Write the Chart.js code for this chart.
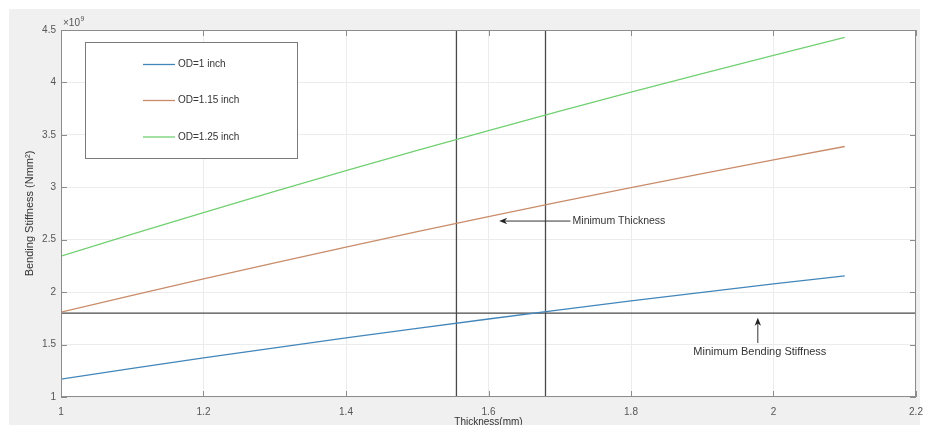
<!DOCTYPE html>
<html><head><meta charset="utf-8">
<script src="https://cdn.jsdelivr.net/npm/chart.js@4/dist/chart.umd.min.js"></script>
<style>html,body{margin:0;padding:0;background:#fff;overflow:hidden}canvas{display:block}</style>
</head><body>
<canvas id="c" width="933" height="425"></canvas>
<script>
// Data
const thickness = [1.0, 1.1, 1.2, 1.3, 1.4, 1.5, 1.6, 1.7, 1.8, 1.9, 2.0, 2.1];
const od1 = [1.171, 1.273, 1.373, 1.469, 1.563, 1.655, 1.744, 1.831, 1.916, 1.998, 2.078, 2.156];
const od115 = [1.810, 1.970, 2.127, 2.280, 2.430, 2.577, 2.720, 2.860, 2.997, 3.131, 3.261, 3.389];
const od125 = [2.343, 2.553, 2.759, 2.960, 3.158, 3.351, 3.540, 3.726, 3.907, 4.085, 4.259, 4.429];
const seriesLabels = ['OD=1 inch', 'OD=1.15 inch', 'OD=1.25 inch'];
const minStiffness = 1.8;
const minThicknessLines = [1.555, 1.68];
const xTickLabels = ['1', '1.2', '1.4', '1.6', '1.8', '2', '2.2'];
const yTickLabels = ['1', '1.5', '2', '2.5', '3', '3.5', '4', '4.5'];
const annotThickness = 'Minimum Thickness';
const annotStiffness = 'Minimum Bending Stiffness';
const yTitle = 'Bending Stiffness (Nmm\u00B2)';
const xTitle = 'Thickness(mm)';

const FONT = "'Liberation Sans', Arial, Helvetica, sans-serif";
const colors = ['#4386ba', '#c98c6a', '#72d072'];
const refColor = '#4a4a4a';

const pts = (ys) => thickness.map((x, i) => ({x: x, y: ys[i]}));

const datasets = [
  {label: seriesLabels[0], data: pts(od1), borderColor: colors[0]},
  {label: seriesLabels[1], data: pts(od115), borderColor: colors[1]},
  {label: seriesLabels[2], data: pts(od125), borderColor: colors[2]},
  {label: '_h', data: [{x: 1, y: minStiffness}, {x: 2.2, y: minStiffness}], borderColor: refColor},
  {label: '_v1', data: [{x: minThicknessLines[0], y: 1}, {x: minThicknessLines[0], y: 4.5}], borderColor: refColor},
  {label: '_v2', data: [{x: minThicknessLines[1], y: 1}, {x: minThicknessLines[1], y: 4.5}], borderColor: refColor}
].map(d => Object.assign({borderWidth: 1.3, pointRadius: 0, tension: 0, fill: false}, d));

function arrow(ctx, x1, y1, x2, y2) {
  const ang = Math.atan2(y2 - y1, x2 - x1);
  const L = 8, W = 3.2;
  ctx.beginPath();
  ctx.moveTo(x1, y1);
  ctx.lineTo(x2 - L * Math.cos(ang) * 0.6, y2 - L * Math.sin(ang) * 0.6);
  ctx.stroke();
  ctx.beginPath();
  ctx.moveTo(x2, y2);
  ctx.lineTo(x2 - L * Math.cos(ang) - W * Math.sin(ang), y2 - L * Math.sin(ang) + W * Math.cos(ang));
  ctx.lineTo(x2 - L * Math.cos(ang) * 0.7, y2 - L * Math.sin(ang) * 0.7);
  ctx.lineTo(x2 - L * Math.cos(ang) + W * Math.sin(ang), y2 - L * Math.sin(ang) - W * Math.cos(ang));
  ctx.closePath();
  ctx.fill();
}

const decor = {
  id: 'decor',
  beforeDraw(chart) {
    const ctx = chart.ctx, a = chart.chartArea;
    ctx.save();
    ctx.fillStyle = '#ffffff';
    ctx.fillRect(0, 0, chart.width, chart.height);
    ctx.fillStyle = '#f0f0f0';
    ctx.fillRect(9, 9, 911, chart.height - 9);
    ctx.fillStyle = '#ffffff';
    ctx.fillRect(a.left, a.top, a.right - a.left, a.bottom - a.top);
    ctx.restore();
  },
  afterDatasetsDraw(chart) {
    const ctx = chart.ctx, a = chart.chartArea;
    const xs = chart.scales.x, ys = chart.scales.y;
    ctx.save();
    ctx.strokeStyle = '#8c8c8c';
    ctx.lineWidth = 1;
    ctx.strokeRect(a.left + 0.5, a.top + 0.5, a.right - a.left - 1, a.bottom - a.top - 1);
    ctx.beginPath();
    xTickLabels.forEach(l => {
      const px = Math.round(xs.getPixelForValue(parseFloat(l))) + 0.5;
      ctx.moveTo(px, a.bottom); ctx.lineTo(px, a.bottom - 6);
      ctx.moveTo(px, a.top); ctx.lineTo(px, a.top + 6);
    });
    yTickLabels.forEach(l => {
      const py = Math.round(ys.getPixelForValue(parseFloat(l))) + 0.5;
      ctx.moveTo(a.left, py); ctx.lineTo(a.left + 6, py);
      ctx.moveTo(a.right, py); ctx.lineTo(a.right - 6, py);
    });
    ctx.stroke();

    ctx.fillStyle = '#555';
    ctx.textBaseline = 'alphabetic';
    ctx.textAlign = 'left';
    ctx.font = '10px ' + FONT;
    ctx.fillText('\u00D710', a.left + 2, a.top - 4);
    const w = ctx.measureText('\u00D710').width;
    ctx.font = '7px ' + FONT;
    ctx.fillText('9', a.left + 2 + w + 0.5, a.top - 9);

    ctx.strokeStyle = '#333';
    ctx.fillStyle = '#222';
    ctx.lineWidth = 1;
    const ay = ys.getPixelForValue(2.678);
    arrow(ctx, xs.getPixelForValue(1.715), ay, xs.getPixelForValue(1.615), ay);
    ctx.font = '10.5px ' + FONT;
    ctx.fillStyle = '#333';
    ctx.textAlign = 'left';
    ctx.textBaseline = 'middle';
    ctx.fillText(annotThickness, xs.getPixelForValue(1.718), ay);

    const bx = xs.getPixelForValue(1.978);
    ctx.fillStyle = '#222';
    arrow(ctx, bx, ys.getPixelForValue(1.515), bx, ys.getPixelForValue(1.755));
    ctx.fillStyle = '#333';
    ctx.textAlign = 'center';
    ctx.font = '11px ' + FONT;
    ctx.fillText(annotStiffness, bx + 2, ys.getPixelForValue(1.43));

    const lx = 85, ly = 42, lw = 212, lh = 116;
    ctx.fillStyle = '#fff';
    ctx.fillRect(lx, ly, lw, lh);
    ctx.strokeStyle = '#7a7a7a';
    ctx.strokeRect(lx + 0.5, ly + 0.5, lw, lh);
    const rows = [64.5, 100.5, 137];
    ctx.font = '10px ' + FONT;
    ctx.textAlign = 'left';
    ctx.textBaseline = 'middle';
    seriesLabels.forEach((s, i) => {
      ctx.strokeStyle = colors[i];
      ctx.lineWidth = 1.3;
      ctx.beginPath();
      ctx.moveTo(143, rows[i]); ctx.lineTo(175, rows[i]);
      ctx.stroke();
      ctx.fillStyle = '#333';
      ctx.fillText(s, 178, rows[i]);
    });
    ctx.restore();
  }
};

const labelFor = (arr) => (v) => {
  const f = arr.find(l => Math.abs(parseFloat(l) - v) < 1e-6);
  return f === undefined ? '' : f;
};

new Chart(document.getElementById('c'), {
  type: 'line',
  data: {datasets: datasets},
  plugins: [decor],
  options: {
    responsive: false,
    animation: false,
    devicePixelRatio: 1,
    layout: {padding: {top: 30, right: 17, left: 0, bottom: 0}},
    plugins: {legend: {display: false}, tooltip: {enabled: false}},
    scales: {
      x: {
        type: 'linear', min: 1, max: 2.2,
        ticks: {stepSize: 0.2, padding: 9, color: '#555', maxRotation: 0, autoSkip: false,
          font: {size: 10, family: FONT}, callback: labelFor(xTickLabels)},
        grid: {color: '#ececec', drawTicks: false},
        border: {display: false},
        title: {display: true, text: xTitle, color: '#333', font: {size: 10, family: FONT}, padding: {top: 0, bottom: -3}},
        afterFit(s) { s.height = 28; }
      },
      y: {
        type: 'linear', min: 1, max: 4.5,
        ticks: {stepSize: 0.5, padding: 5, color: '#555', autoSkip: false,
          font: {size: 10, family: FONT}, callback: labelFor(yTickLabels)},
        grid: {color: '#ececec', drawTicks: false},
        border: {display: false},
        title: {display: true, text: yTitle, color: '#333', font: {size: 11, family: FONT}, padding: {top: 23, bottom: 0}},
        afterFit(s) { s.width = 61; }
      }
    }
  }
});
</script>
</body></html>
